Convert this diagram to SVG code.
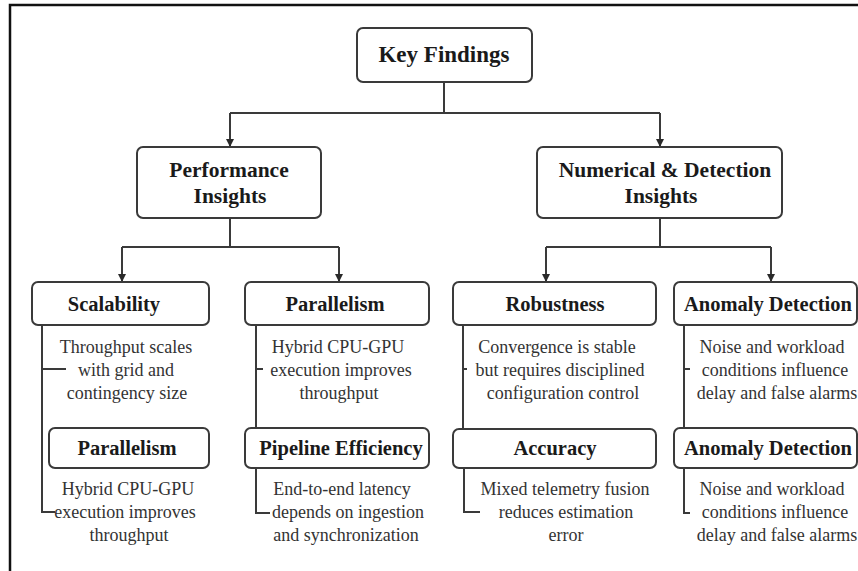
<svg xmlns="http://www.w3.org/2000/svg" width="858" height="571" viewBox="0 0 858 571">
  <style>
    .box { fill: #ffffff; stroke: #3a3a3a; stroke-width: 2; }
    .line { fill: none; stroke: #3a3a3a; stroke-width: 2; }
    .frame { fill: none; stroke: #111111; stroke-width: 2.5; }
    .t1 { font-family: "Liberation Serif", "Times New Roman", serif; font-weight: bold; font-size: 23px; fill: #1a1a1a; text-anchor: middle; }
    .t2 { font-family: "Liberation Serif", "Times New Roman", serif; font-weight: bold; font-size: 21.5px; fill: #1a1a1a; text-anchor: middle; }
    .t3 { font-family: "Liberation Serif", "Times New Roman", serif; font-weight: bold; font-size: 20.5px; fill: #1a1a1a; text-anchor: middle; }
    .d { font-family: "Liberation Serif", "Times New Roman", serif; font-size: 18px; fill: #333333; text-anchor: middle; }
  </style>
  <defs>
    <marker id="arrow" viewBox="0 0 8 8" refX="8" refY="4" markerWidth="8" markerHeight="8" markerUnits="userSpaceOnUse" orient="auto">
      <path d="M0,0 L8,4 L0,8 Z" fill="#2a2a2a"/>
    </marker>
  </defs>

  <rect x="0" y="0" width="858" height="571" fill="#ffffff"/>
  <path class="frame" d="M10,571 V5 H858"/>

  <!-- connectors -->
  <g id="connectors">
    <path class="line" d="M444,82 V113"/>
    <path class="line" d="M230,113 H660"/>
    <path class="line" d="M230,113 V147" marker-end="url(#arrow)"/>
    <path class="line" d="M660,113 V147" marker-end="url(#arrow)"/>

    <path class="line" d="M230,218 V247 M122,247 H339"/>
    <path class="line" d="M122,247 V282" marker-end="url(#arrow)"/>
    <path class="line" d="M339,247 V282" marker-end="url(#arrow)"/>

    <path class="line" d="M660,218 V247 M546,247 H771"/>
    <path class="line" d="M546,247 V282" marker-end="url(#arrow)"/>
    <path class="line" d="M771,247 V282" marker-end="url(#arrow)"/>

    <!-- left column spine -->
    <path class="line" d="M42,325 V512 H55 M42,369 H66"/>
    <!-- second column -->
    <path class="line" d="M256,325 V428 M256,369 H263"/>
    <path class="line" d="M256,468 V513 H270"/>
    <!-- third column -->
    <path class="line" d="M463,325 V429 M463,369 H467"/>
    <path class="line" d="M464,468 V512 H480"/>
    <!-- fourth column -->
    <path class="line" d="M684,325 V428 M684,369 H690"/>
    <path class="line" d="M684,468 V513 H690"/>
  </g>

  <g id="key-findings">
    <rect class="box" x="357" y="28" width="175" height="54" rx="6"/>
    <text class="t1" x="444" y="62">Key Findings</text>
  </g>

  <g id="performance-insights">
    <rect class="box" x="137" y="147" width="184" height="71" rx="6"/>
    <text class="t2" x="229" y="177">Performance</text>
    <text class="t2" x="230" y="203">Insights</text>
  </g>

  <g id="numerical-detection-insights">
    <rect class="box" x="537" y="147" width="245" height="71" rx="6"/>
    <text class="t2" x="665" y="177">Numerical &amp; Detection</text>
    <text class="t2" x="661" y="203">Insights</text>
  </g>

  <g id="scalability">
    <rect class="box" x="32" y="282" width="177" height="43" rx="6"/>
    <text class="t3" x="114" y="311">Scalability</text>
    <text class="d" x="126" y="353">Throughput scales</text>
    <text class="d" x="126" y="376">with grid and</text>
    <text class="d" x="127" y="399">contingency size</text>
  </g>

  <g id="parallelism-a">
    <rect class="box" x="245" y="282" width="184" height="43" rx="6"/>
    <text class="t3" x="335" y="311">Parallelism</text>
    <text class="d" x="338" y="353">Hybrid CPU-GPU</text>
    <text class="d" x="341" y="376">execution improves</text>
    <text class="d" x="339" y="399">throughput</text>
  </g>

  <g id="robustness">
    <rect class="box" x="453" y="282" width="203" height="43" rx="6"/>
    <text class="t3" x="555" y="311">Robustness</text>
    <text class="d" x="557" y="353">Convergence is stable</text>
    <text class="d" x="560" y="376">but requires disciplined</text>
    <text class="d" x="563" y="399">configuration control</text>
  </g>

  <g id="anomaly-detection-a">
    <rect class="box" x="674" y="282" width="183" height="43" rx="6"/>
    <text class="t3" x="768" y="311">Anomaly Detection</text>
    <text class="d" x="772" y="353">Noise and workload</text>
    <text class="d" x="775" y="376">conditions influence</text>
    <text class="d" x="777" y="399">delay and false alarms</text>
  </g>

  <g id="parallelism-b">
    <rect class="box" x="49" y="428" width="160" height="40" rx="6"/>
    <text class="t3" x="127" y="455">Parallelism</text>
    <text class="d" x="128" y="495">Hybrid CPU-GPU</text>
    <text class="d" x="125" y="518">execution improves</text>
    <text class="d" x="129" y="541">throughput</text>
  </g>

  <g id="pipeline-efficiency">
    <rect class="box" x="245" y="428" width="184" height="40" rx="6"/>
    <text class="t3" x="341" y="455">Pipeline Efficiency</text>
    <text class="d" x="342" y="495">End-to-end latency</text>
    <text class="d" x="348" y="518">depends on ingestion</text>
    <text class="d" x="346" y="541">and synchronization</text>
  </g>

  <g id="accuracy">
    <rect class="box" x="453" y="429" width="203" height="39" rx="6"/>
    <text class="t3" x="555" y="455">Accuracy</text>
    <text class="d" x="565" y="495">Mixed telemetry fusion</text>
    <text class="d" x="566" y="518">reduces estimation</text>
    <text class="d" x="566" y="541">error</text>
  </g>

  <g id="anomaly-detection-b">
    <rect class="box" x="674" y="428" width="183" height="40" rx="6"/>
    <text class="t3" x="768" y="455">Anomaly Detection</text>
    <text class="d" x="772" y="495">Noise and workload</text>
    <text class="d" x="775" y="518">conditions influence</text>
    <text class="d" x="777" y="541">delay and false alarms</text>
  </g>
</svg>
